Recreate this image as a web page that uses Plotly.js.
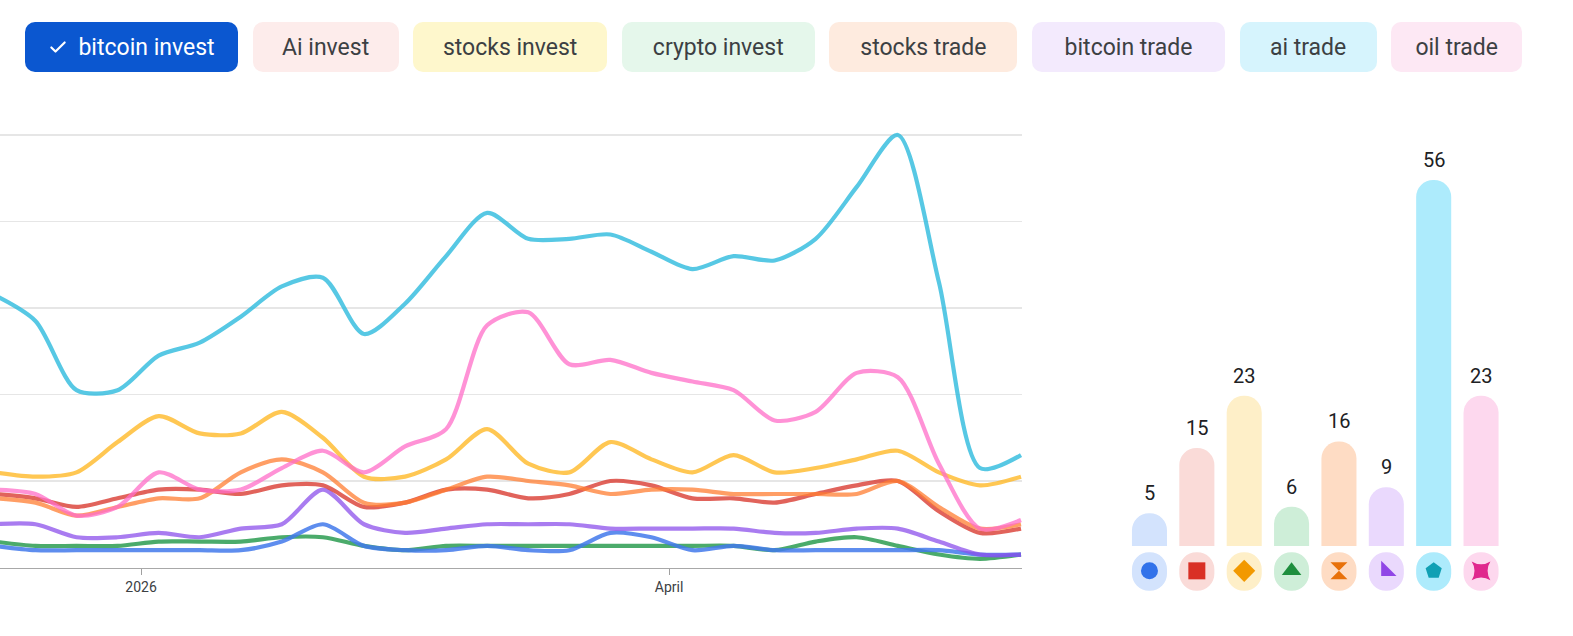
<!DOCTYPE html>
<html>
<head>
<meta charset="utf-8">
<script src="https://cdn.plot.ly/plotly-3.0.1.min.js"></script>
<style>
  html, body { margin: 0; padding: 0; background: #fff; }
  #wrap { position: relative; width: 1573px; height: 636px; overflow: hidden; }
  #chart { position: absolute; left: 0; top: 0; width: 1573px; height: 636px; }
  #chips { position: absolute; left: 25px; top: 22px; display: flex; gap: 14.6px; z-index: 5; }
  .chip { height: 50px; box-sizing: border-box; border-radius: 10px;
          display: flex; align-items: center; justify-content: center;
          font-family: Roboto, "Noto Sans", sans-serif;
          font-size: 23px; color: #3c4043; white-space: nowrap; }
  .chip.sel { color: #fff; }
  .chip svg { margin-right: 10px; }
</style>
</head>
<body>
<div id="wrap">
  <div id="chart"></div>
  <div id="chips"></div>
</div>
<script>
// ---------- data ----------
const seriesNames = ['bitcoin invest', 'Ai invest', 'stocks invest', 'crypto invest',
                     'stocks trade', 'bitcoin trade', 'ai trade', 'oil trade'];

const weeks = ['2025-12-07','2025-12-14','2025-12-21','2025-12-28','2026-01-04','2026-01-11',
  '2026-01-18','2026-01-25','2026-02-01','2026-02-08','2026-02-15','2026-02-22','2026-03-01',
  '2026-03-08','2026-03-15','2026-03-22','2026-03-29','2026-04-05','2026-04-12','2026-04-19',
  '2026-04-26','2026-05-03','2026-05-10','2026-05-17','2026-05-24','2026-05-31'];

const bitcoinInvest = [5,4,4,4,4,4,4,6,10,5,4,4,5,4,4,8,7,4,5,4,4,4,4,4,3,3];
const aiInvest      = [17,16,14,16,18,18,17,19,19,14,15,18,18,16,17,20,19,16,16,15,17,19,20,13,8,9];
const stocksInvest  = [22,21,22,29,35,31,31,36,30,21,21,25,32,24,22,29,25,22,26,22,23,25,27,22,19,21];
const cryptoInvest  = [6,5,5,5,6,6,6,7,7,5,4,5,5,5,5,5,5,5,5,4,6,7,5,3,2,3];
const stocksTrade   = [16,15,12,14,16,16,22,25,22,15,15,18,21,20,19,17,18,18,17,17,17,17,20,14,9,10];
const bitcoinTrade  = [10,10,7,7,8,7,9,10,18,10,8,9,10,10,10,9,9,9,9,8,8,9,9,6,3,3];
const aiTrade       = [63,57,41,41,49,52,58,65,67,54,61,72,82,76,76,77,73,69,72,71,76,88,100,66,23,26];
const oilTrade      = [18,17,12,14,22,18,18,23,27,22,28,32,56,59,47,48,45,43,41,34,36,45,44,24,9,11];

const averages = [5, 15, 23, 6, 16, 9, 56, 23];

const tickDates  = ['2026-01-01', '2026-04-01'];
const tickLabels = ['2026', 'April'];

// ---------- styles ----------
const lineColors = ['rgba(66,121,235,0.85)','rgba(217,60,50,0.8)','rgba(255,185,40,0.8)',
  'rgba(30,150,70,0.8)','rgba(255,125,50,0.75)','rgba(140,80,235,0.75)',
  'rgba(40,185,220,0.78)','rgba(255,110,200,0.75)'];
const barColors  = ['#d3e3fd','#fadbd8','#feefc8','#ceeed8','#fedcc4','#ead9fd','#adebfc','#fdd8ee'];
const iconColors = ['#3172ea','#d93025','#f29900','#1e8e3e','#e8710a','#9046e6','#11a0b4','#e0288e'];
const iconSymbols = ['circle','square','diamond','triangle-up','hourglass','triangle-sw','pentagon','star-square'];
const chipColors = ['#0b57d0','#fdeceb','#fef7cc','#e5f7eb','#feebdf','#f3eafd','#d6f4fd','#fde8f4'];
const chipWidths = [213, 146, 194, 193, 188, 193, 137, 131];

const allSeries = [bitcoinInvest, aiInvest, stocksInvest, cryptoInvest,
                   stocksTrade, bitcoinTrade, aiTrade, oilTrade];

// ---------- chips ----------
const chipsEl = document.getElementById('chips');
seriesNames.forEach((n, i) => {
  const d = document.createElement('div');
  d.className = 'chip' + (i === 0 ? ' sel' : '');
  d.style.background = chipColors[i];
  d.style.width = chipWidths[i] + 'px';
  if (i === 0) {
    d.innerHTML = '<svg width="20" height="20" viewBox="0 0 24 24"><path d="M4 12.5l5 5L20 6.5" fill="none" stroke="#fff" stroke-width="2.6" stroke-linecap="round" stroke-linejoin="round"/></svg>';
  }
  d.appendChild(document.createTextNode(n));
  chipsEl.appendChild(d);
});

// ---------- traces ----------
const traces = [];
const drawOrder = [3, 0, 5, 1, 4, 2, 7, 6];
drawOrder.forEach(i => {
  traces.push({
    type: 'scatter', mode: 'lines', x: weeks, y: allSeries[i], name: seriesNames[i],
    xaxis: 'x', yaxis: 'y',
    line: { color: lineColors[i], width: 4.2, shape: 'spline', smoothing: 0.8 },
    hoverinfo: 'skip'
  });
});

const idx = seriesNames.map((_, i) => i);
const BAR_W = 0.74;
const ICON_BASE = -0.96, ICON_LEN = -5.88, ICON_Y = -3.8;

traces.push({
  type: 'bar', x: idx, y: averages, xaxis: 'x2', yaxis: 'y2', width: BAR_W,
  marker: { color: barColors, cornerradius: '50%', line: { width: 0 } },
  hoverinfo: 'skip'
});
traces.push({
  type: 'bar', x: idx, y: idx.map(() => ICON_LEN), base: ICON_BASE, xaxis: 'x2', yaxis: 'y2', width: BAR_W,
  marker: { color: barColors, cornerradius: '50%', line: { width: 0 } },
  hoverinfo: 'skip'
});
traces.push({
  type: 'scatter', mode: 'markers', x: idx, y: idx.map(() => ICON_Y), xaxis: 'x2', yaxis: 'y2',
  marker: { symbol: iconSymbols, color: iconColors, size: 17, line: { width: 0 } },
  hoverinfo: 'skip', cliponaxis: false
});

const annotations = averages.map((v, i) => ({
  xref: 'x2', yref: 'y2', x: i, y: v, text: String(v), showarrow: false,
  yanchor: 'middle', yshift: 20,
  font: { family: 'Roboto, sans-serif', size: 20, color: '#202124' }
}));

const layout = {
  width: 1573, height: 636,
  margin: { l: 0, r: 0, t: 0, b: 0 },
  paper_bgcolor: '#fff', plot_bgcolor: 'rgba(0,0,0,0)',
  showlegend: false,
  barmode: 'overlay',
  font: { family: 'Roboto, sans-serif', color: '#3c4043' },
  xaxis: {
    domain: [0, 0.6497], type: 'date',
    range: ['2025-12-07 23:00', '2026-05-31 04:00'],
    tickvals: tickDates, ticktext: tickLabels,
    ticks: 'outside', ticklen: 6, tickcolor: '#a0a0a0', tickwidth: 1,
    showline: true, linecolor: '#a8a8a8', linewidth: 1.3,
    showgrid: false, zeroline: false,
    tickfont: { size: 14, color: '#3c4043', family: 'Roboto, sans-serif' }
  },
  yaxis: {
    domain: [0.1077, 0.8113], range: [0, 103.47],
    tickvals: [20, 40, 60, 80, 100], showticklabels: false, ticks: '',
    showgrid: true, gridcolor: '#e6e6e6', gridwidth: 1.2,
    zeroline: false, showline: false
  },
  xaxis2: {
    domain: [0.7157, 0.9566], range: [-0.5, 7.5],
    showgrid: false, zeroline: false, showline: false, showticklabels: false, ticks: ''
  },
  yaxis2: {
    domain: [0, 1], range: [-13.77, 83.54], anchor: 'x2',
    showgrid: false, zeroline: false, showline: false, showticklabels: false, ticks: ''
  },
  annotations: annotations
};

Plotly.newPlot('chart', traces, layout, { displayModeBar: false, staticPlot: true });
</script>
</body>
</html>
